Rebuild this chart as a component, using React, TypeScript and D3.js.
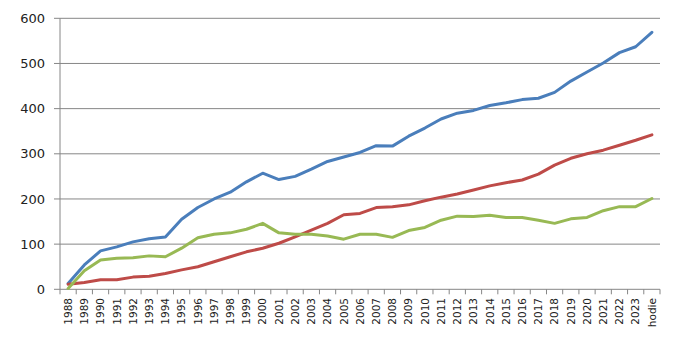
import React from "react";
import * as d3 from "d3";

const categories: string[] = [
  "1988","1989","1990","1991","1992","1993","1994","1995","1996","1997",
  "1998","1999","2000","2001","2002","2003","2004","2005","2006","2007",
  "2008","2009","2010","2011","2012","2013","2014","2015","2016","2017",
  "2018","2019","2020","2021","2022","2023","hodie",
];

const blueValues: number[] = [
  13, 54, 85, 94, 105, 112, 116, 155, 181, 200,
  215, 238, 257, 243, 250, 266, 283, 293, 303, 318,
  317, 339, 357, 377, 390, 396, 407, 413, 420, 423,
  436, 461, 481, 501, 524, 537, 569,
];

const redValues: number[] = [
  11, 15, 21, 21, 27, 29, 35, 43, 50, 61,
  72, 83, 91, 102, 116, 131, 146, 165, 168, 181,
  183, 187, 196, 204, 211, 220, 229, 236, 242, 255,
  275, 290, 300, 308, 319, 330, 342,
];

const greenValues: number[] = [
  2, 41, 65, 69, 70, 74, 72, 91, 114, 122,
  125, 133, 146, 125, 122, 122, 118, 111, 122, 122,
  115, 130, 137, 153, 162, 161, 164, 159, 159, 153,
  146, 156, 159, 174, 183, 183, 201,
];

const yTicks: number[] = [0, 100, 200, 300, 400, 500, 600];

const series = [
  { name: "blue", values: blueValues, color: "#4A7EBB" },
  { name: "red", values: redValues, color: "#BE4B48" },
  { name: "green", values: greenValues, color: "#98B954" },
];

export default function App() {
  const W = 685;
  const H = 338;
  const left = 60;
  const right = 660;
  const top = 18.3;
  const bottom = 289.3;

  const x = d3.scalePoint<string>().domain(categories).range([left, right]).padding(0.5);
  const y = d3.scaleLinear().domain([0, 600]).range([bottom, top]);
  const step = x.step();

  const line = d3
    .line<number>()
    .x((_, i) => x(categories[i]) as number)
    .y((d) => y(d));

  const gridColor = "#868686";

  return (
    <svg
      width={W}
      height={H}
      style={{ position: "absolute", left: 0, top: 0, background: "#fff" }}
      fontFamily="DejaVu Sans, Verdana, sans-serif"
    >
      {yTicks.map((t) => (
        <g key={t}>
          {t > 0 && (
            <line x1={left} x2={right} y1={y(t)} y2={y(t)} stroke={gridColor} strokeWidth={1} />
          )}
          <line x1={left - 6} x2={left} y1={y(t)} y2={y(t)} stroke={gridColor} strokeWidth={1} />
          <text x={45} y={y(t)} dy="0.36em" textAnchor="end" fontSize={13} fill="#222">
            {t}
          </text>
        </g>
      ))}
      <line x1={left} x2={left} y1={top} y2={bottom} stroke={gridColor} strokeWidth={1} />
      <line x1={left} x2={right} y1={bottom} y2={bottom} stroke={gridColor} strokeWidth={1} />
      {d3.range(categories.length + 1).map((i) => (
        <line
          key={i}
          x1={left + i * step}
          x2={left + i * step}
          y1={bottom}
          y2={bottom + 5}
          stroke={gridColor}
          strokeWidth={1}
        />
      ))}
      {categories.map((c) => (
        <text
          key={c}
          transform={`translate(${x(c)},${298}) rotate(-90)`}
          textAnchor="end"
          dy="0.36em"
          fontSize={10.5}
          fill="#222"
        >
          {c}
        </text>
      ))}
      {series.map((s) => (
        <path
          key={s.name}
          d={line(s.values) || ""}
          fill="none"
          stroke={s.color}
          strokeWidth={3}
          strokeLinejoin="round"
          strokeLinecap="round"
        />
      ))}
    </svg>
  );
}
